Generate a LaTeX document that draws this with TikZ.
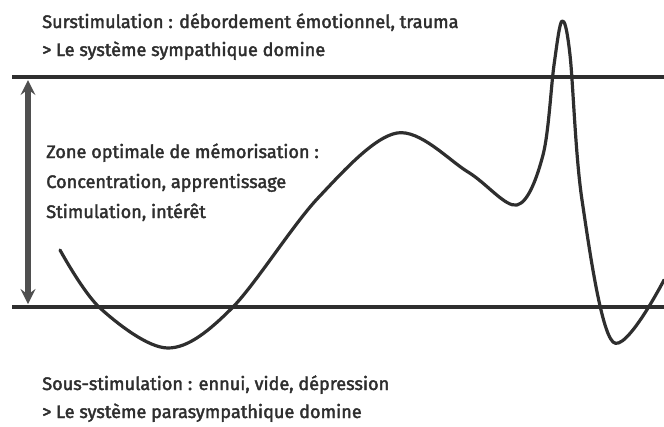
\documentclass[tikz,border=0pt]{standalone}
\usepackage{fontspec}
\setmainfont{Fira Sans}[UprightFeatures={FakeBold=2.2}]
\usepackage{tikz}
\usetikzlibrary{arrows}
\definecolor{anthracite}{HTML}{2E2E2E}
\definecolor{grisfleche}{HTML}{4F4F4F}
\tikzset{
  legende/.style={anchor=base west, inner sep=0pt, font=\fontsize{13.6}{16}\selectfont, text=anthracite},
  seuilhaut/.style={line width=3.4pt, color=anthracite},
  seuilbas/.style={line width=2.6pt, color=anthracite},
  courbe/.style={line width=2.4pt, color=anthracite, line join=round, line cap=round},
  fleche/.style={line width=3.8pt, <->, >=stealth, color=grisfleche}
}
\begin{document}
\begin{tikzpicture}[x=0.75pt, y=-0.75pt]
  \useasboundingbox (0,0) rectangle (664,426);
  % seuils
  \coordinate (hautG) at (12,77);
  \coordinate (hautD) at (664,77);
  \coordinate (basG) at (12,307);
  \coordinate (basD) at (664,307);
  \draw [seuilhaut] (hautG) -- (hautD);
  \draw [seuilbas] (basG) -- (basD);
  % zone optimale
  \coordinate (flecheH) at (28,80);
  \coordinate (flecheB) at (28,304);
  \draw [fleche] (flecheH) -- (flecheB);
  % textes
  \node (sur1) [legende] at (42,28) {Surstimulation : débordement émotionnel, trauma};
  \node (sur2) [legende] at (42,56) {> Le système sympathique domine};
  \node (zone1) [legende] at (46,158) {Zone optimale de mémorisation :};
  \node (zone2) [legende] at (46,188) {Concentration, apprentissage};
  \node (zone3) [legende] at (46,218) {Stimulation, intérêt};
  \node (sous1) [legende] at (42,390) {Sous-stimulation : ennui, vide, dépression};
  \node (sous2) [legende] at (42,418) {> Le système parasympathique domine};
  % courbe de stimulation
  \draw [courbe] plot [smooth, tension=0.55] coordinates {
    (60,250) (100,308) (168,348) (232,308) (318,198) (397,133)
    (468,172) (517,205) (543,155) (554,65) (562,21) (570,55) (582,200)
    (613,342) (664,280)};
\end{tikzpicture}
\end{document}
